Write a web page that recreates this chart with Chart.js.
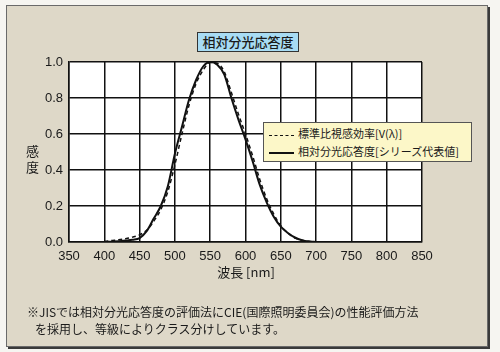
<!DOCTYPE html>
<html>
<head>
<meta charset="utf-8">
<script src="https://cdn.jsdelivr.net/npm/chart.js@4"></script>
<style>
  body { margin: 0; background: #f6f5f1; }
  #wrap { position: relative; width: 500px; height: 352px; overflow: hidden; font-family: "Liberation Sans", "Noto Sans CJK JP", sans-serif; color: #1a1a1a; }
  #frame { position: absolute; left: 6px; top: 5px; width: 480px; height: 340px; background: #ded8c8; border: 1px solid #6a6a6a; box-shadow: 2px 2px 0 #3a3a3a; }
  #cv { position: absolute; left: 0; top: 0; }
  .jp { font-family: "Noto Sans CJK JP", sans-serif; }
  #title { position: absolute; left: 197px; top: 32px; width: 100px; height: 18px; background: #a8dcf4; border: 1px solid #333; font-size: 13px; line-height: 18px; text-align: center; font-weight: 500; }
  #ytitle { position: absolute; left: 26px; top: 143px; font-size: 13px; line-height: 16px; width: 14px; }
  #xtitle { position: absolute; left: 0; width: 492px; text-align: center; top: 262px; font-size: 13px; }
  #legend { position: absolute; left: 263px; top: 122px; width: 207px; height: 38px; background: #fcf7c8; border: 1px solid #555; font-size: 11px; }
  .row { position: absolute; left: 5px; height: 16px; line-height: 16px; white-space: nowrap; }
  .sample { display: inline-block; width: 25px; vertical-align: middle; margin-right: 4px; }
  #note { position: absolute; left: 27px; top: 303px; font-size: 12px; line-height: 17px; }
</style>
</head>
<body>
<div id="wrap">
  <div id="frame"></div>
  <canvas id="cv" width="500" height="352"></canvas>
  <div id="title" class="jp">相対分光応答度</div>
  <div id="ytitle" class="jp">感<br>度</div>
  <div id="xtitle" class="jp">波長 [nm]</div>
  <div id="legend" class="jp">
    <div class="row" style="top:2px"><span class="sample" style="border-top:1.5px dashed #111"></span>標準比視感効率[V(λ)]</div>
    <div class="row" style="top:20px"><span class="sample" style="border-top:2px solid #111"></span>相対分光応答度[シリーズ代表値]</div>
  </div>
  <div id="note" class="jp">※JISでは相対分光応答度の評価法にCIE(国際照明委員会)の性能評価方法<br>&nbsp;&nbsp;&nbsp;を採用し、等級によりクラス分けしています。</div>
</div>
<script>
// 波長 (nm)
var wavelengths = [400,410,420,430,440,450,460,470,480,490,500,510,520,530,540,550,560,570,580,590,600,610,620,630,640,650,660,670,680,690,700];
// 標準比視感効率 V(λ)（破線）
var vLambda = [0.003,0.008,0.012,0.018,0.027,0.04,0.065,0.115,0.18,0.28,0.43,0.60,0.76,0.88,0.955,0.997,0.993,0.945,0.83,0.71,0.60,0.48,0.35,0.24,0.155,0.09,0.05,0.022,0.01,0.004,0.0];
// 相対分光応答度（実線）
var response = [0.0,0.002,0.004,0.008,0.013,0.022,0.06,0.13,0.20,0.31,0.49,0.64,0.79,0.90,0.975,1.0,0.985,0.93,0.80,0.68,0.57,0.45,0.32,0.22,0.14,0.085,0.05,0.025,0.01,0.003,0.0];
var xTicks = [350,400,450,500,550,600,650,700,750,800,850];
var yTicks = [0,0.1,0.2,0.3,0.4,0.5,0.6,0.7,0.8,0.9,1.0];

function pts(ys) {
  return wavelengths.map(function (w, i) { return { x: w, y: ys[i] }; });
}

// プロット領域を白く塗る
var whiteArea = {
  id: 'whiteArea',
  beforeDraw: function (chart) {
    var a = chart.chartArea, ctx = chart.ctx;
    ctx.save();
    ctx.fillStyle = '#ffffff';
    ctx.fillRect(a.left, a.top, a.right - a.left, a.bottom - a.top);
    ctx.restore();
  }
};

new Chart(document.getElementById('cv'), {
  type: 'line',
  data: {
    datasets: [{
      label: '標準比視感効率[V(λ)]',
      data: pts(vLambda),
      borderColor: '#111',
      borderWidth: 1.5,
      borderDash: [4, 3],
      pointRadius: 0,
      cubicInterpolationMode: 'monotone',
      fill: false
    }, {
      label: '相対分光応答度[シリーズ代表値]',
      data: pts(response),
      borderColor: '#111',
      borderWidth: 2,
      pointRadius: 0,
      cubicInterpolationMode: 'monotone',
      fill: false
    }]
  },
  options: {
    responsive: false,
    animation: false,
    events: [],
    layout: { padding: { left: 0, top: 62, right: 78, bottom: 0 } },
    plugins: { legend: { display: false }, tooltip: { enabled: false } },
    scales: {
      x: {
        type: 'linear', min: 350, max: 850,
        afterBuildTicks: function (s) { s.ticks = xTicks.map(function (v) { return { value: v }; }); },
        afterFit: function (s) { s.height = 110; },
        grid: { color: '#111', lineWidth: 1.5, drawTicks: false },
        border: { color: '#111', width: 1.5 },
        ticks: { padding: 7, color: '#1a1a1a', font: { family: 'Liberation Sans', size: 13 }, maxRotation: 0 }
      },
      y: {
        min: 0, max: 1,
        afterBuildTicks: function (s) { s.ticks = yTicks.map(function (v) { return { value: v }; }); },
        afterFit: function (s) { s.width = 69; },
        grid: { color: '#111', lineWidth: 1.5, drawTicks: false },
        border: { color: '#111', width: 1.5 },
        ticks: { padding: 6, color: '#1a1a1a', font: { family: 'Liberation Sans', size: 13 },
          callback: function (v) { return v.toFixed(1); } }
      }
    }
  },
  plugins: [whiteArea]
});
</script>
</body>
</html>
